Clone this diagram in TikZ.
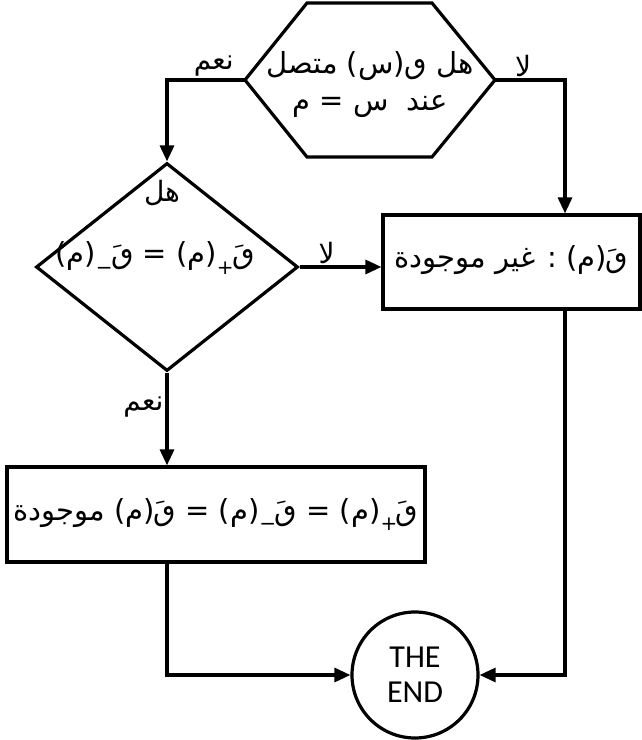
\documentclass[tikz,border=0pt]{standalone}
\usepackage{fontspec}
\usetikzlibrary{arrows.meta,positioning,shapes.geometric}
\newfontfamily\arabicfont[Script=Arabic]{DejaVu Sans}
\newfontfamily\endfont{Carlito}
\TeXXeTstate=1
\newcommand{\qaf}{ٯ}
\newcommand{\dq}[1]{\hbox{ٯَ\kern-0.05em\raisebox{-0.35em}{\fontsize{20}{20}\selectfont#1}}}
\newcommand{\pa}[1]{\hbox{(\kern0pt#1\kern0pt)}}

\begin{document}
\begin{tikzpicture}[x=1pt,y=1pt,
    txt/.style={font={\arabicfont\fontsize{29}{37}\selectfont}},
    lbl/.style={font={\arabicfont\fontsize{28}{32}\selectfont}, inner sep=2pt},
    box/.style={draw, line width=3.2pt, inner sep=0pt},
    flow/.style={line width=3.2pt, -{Triangle[length=16pt,width=14pt]}}]
  \useasboundingbox (0,0) rectangle (641,740);
  % first test: continuity at s = m
  \coordinate (hexL) at (245,660);
  \coordinate (hexR) at (495,660);
  \draw[line width=3.2pt] (hexL) -- (307,737) -- (432,737) -- (hexR)
    -- (432,583) -- (307,583) -- cycle;
  \node[txt, align=center, inner sep=0pt] (cont) at (370,655)
    {\beginR هل \qaf\pa{س} متصل\endR\\ \beginR عند\hspace{0.3em} س = م\endR};
  % second test: one-sided derivatives
  \node[box, diamond, minimum width=262pt, minimum height=208pt] (deriv) at (167,473) {};
  \node[lbl, inner sep=0pt] (hal) at (162,547) {\beginR هل\endR};
  \node[txt, inner sep=0pt] (eqn) at (155,482) {\beginR\dq{+}\pa{م} = \dq{−}\pa{م}\endR};
  % results
  \node[box, txt, minimum width=257pt, minimum height=94pt] (none) at (511.5,478)
    {\beginR\dq{}\pa{م} : غير موجودة\endR};
  \node[box, txt, minimum width=418pt, minimum height=95pt] (exists) at (216,225.5)
    {\beginR\dq{+}\pa{م} = \dq{−}\pa{م} = \dq{}\pa{م} موجودة\endR};
  \node[draw, circle, line width=3.2pt, minimum size=126pt, inner sep=0pt, align=center,
    font={\endfont\fontsize{32}{35}\selectfont}] (stop) at (415,65) {THE\\END};
  % connectors
  \draw[flow] (hexL) -| (deriv.north)
    node[lbl, pos=0.2, above] {\beginR نعم\endR};
  \draw[flow] (hexR) -| ([xshift=53.5pt]none.north)
    node[lbl, pos=0.2, above] {\beginR لا\endR};
  \draw[flow] (deriv.east) -- (deriv.east -| none.west)
    node[lbl, pos=0.33, above] {\beginR لا\endR};
  \draw[flow] (deriv.south) -- (deriv.south |- exists.north)
    node[lbl, pos=0.375, left] {\beginR نعم\endR};
  \draw[flow] (exists.south -| deriv.south) |- (stop.west);
  \draw[flow] ([xshift=53.5pt]none.south) |- (stop.east);
\end{tikzpicture}
\end{document}
